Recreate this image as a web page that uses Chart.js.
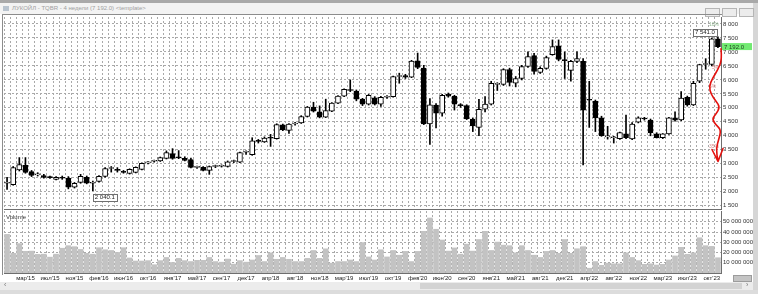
<!DOCTYPE html>
<html>
<head>
<meta charset="utf-8">
<script src="https://cdn.jsdelivr.net/npm/chart.js@4.4.0/dist/chart.umd.min.js"></script>
<style>
html, body { margin: 0; padding: 0; }
body { width: 758px; height: 294px; background: #d6d6d6; position: relative; overflow: hidden; font-family: "Liberation Sans", Arial, sans-serif; }
#topband { position: absolute; left: 0; top: 0; width: 758px; height: 3px; background: #a9a9a9; }
#win { position: absolute; left: 0; top: 3px; width: 753px; height: 291px; background: #fff; }
#title { position: absolute; left: 0; top: 3px; width: 753px; height: 11px; background: #f3f3f3; color: #a0a0a0; font-size: 6px; line-height: 11px; }
#title span { position: absolute; left: 12px; top: 0; }
#title i { position: absolute; left: 3px; top: 3px; width: 6px; height: 5px; background: #b9c4cf; }
.btn { position: absolute; top: 5px; width: 13px; height: 7px; border: 1px solid #b5b5b5; background: #ececec; }
#frameL { position: absolute; left: 2px; top: 14px; width: 1px; height: 261px; background: #8c8c8c; }
#frameT { position: absolute; left: 2px; top: 14px; width: 720px; height: 1px; background: #8c8c8c; }
#price { position: absolute; left: 4px; top: 12px; width: 750px; height: 202px; }
#volume { position: absolute; left: 4px; top: 206px; width: 750px; height: 77px; }
#scroll { position: absolute; left: 0; top: 282px; width: 753px; height: 8px; background: #ececec; font-size: 7px; color: #777; }
#thumb { position: absolute; left: 420px; top: 1px; width: 322px; height: 6px; background: #d3d3d3; }
#scroll b { position: absolute; top: -1px; font-weight: normal; }
#bottom { position: absolute; left: 0; top: 290px; width: 758px; height: 4px; background: #dcdcdc; }
#corner { position: absolute; left: 733px; top: 275px; width: 17px; height: 5px; background: #c4c4c4; border: 1px solid #9c9c9c; }
</style>
</head>
<body>
<div id="topband"></div>
<div id="win"></div>
<div id="title"><i></i><span>ЛУКОЙЛ - TQBR - 4 недели (7 192.0) &lt;template&gt;</span>
  <div class="btn" style="left:705px"></div><div class="btn" style="left:722px"></div><div class="btn" style="left:739px"></div>
</div>
<div id="price"><canvas id="chartPrice"></canvas></div>
<div id="volume"><canvas id="chartVol"></canvas></div>
<div id="frameL"></div>
<div id="frameT"></div>
<div id="corner"></div>
<div id="scroll"><div id="thumb"></div><b style="left:4px">&lsaquo;</b><b style="left:746px">&rsaquo;</b></div>
<div id="bottom"></div>
<script>
// --- Dados: velas de 4 semanas (LKOH), de 2015 a 2023 ---
const openPrices = [
  2300, 2250, 2780, 2940, 2720, 2600, 2580, 2510, 2440, 2510,
  2480, 2160, 2330, 2510, 2300, 2370, 2550, 2830, 2800, 2700,
  2650, 2690, 2800, 3030, 3090, 3100, 3190, 3360, 3220, 3190,
  3150, 2870, 2870, 2760, 2900, 2910, 2900, 3080, 3060, 3410,
  3320, 3820, 3780, 3920, 3900, 4390, 4190, 4420, 4460, 4690,
  5030, 4860, 4670, 4880, 5170, 5420, 5640, 5600, 5310, 5130,
  5360, 5130, 5380, 5400, 6120, 6150, 6100, 6680, 6420, 4420,
  5100, 4810, 5490, 5420, 5100, 5080, 4600, 4300, 4950, 5130,
  5840, 5840, 6370, 5880, 6050, 6480, 6870, 6270, 6410, 6900,
  7220, 6700, 6340, 6660, 6660, 5280, 5240, 4640, 3960, 3930,
  3900, 4070, 3890, 4490, 4620, 4560, 4070, 3930, 4070, 4640,
  4570, 5380, 5100, 5950, 6550, 6550, 7470
];
const highPrices = [
  2510, 2900, 3220, 3220, 2760, 2680, 2620, 2560, 2540, 2560,
  2540, 2330, 2620, 2560, 2380, 2580, 2860, 2900, 2860, 2760,
  2820, 2890, 3030, 3080, 3130, 3240, 3460, 3540, 3470, 3250,
  3200, 2920, 2900, 2920, 2950, 2960, 3100, 3130, 3420, 3460,
  3930, 3870, 3960, 4050, 4430, 4420, 4440, 4480, 4720, 5050,
  5200, 5070, 5310, 5190, 5440, 5680, 6000, 5640, 5340, 5480,
  5400, 5410, 5440, 6140, 6240, 6200, 6700, 6960, 6520, 5330,
  5150, 5480, 5530, 5450, 5150, 5110, 4640, 5300, 5400, 5950,
  5900, 6400, 6420, 6120, 6520, 7000, 6950, 6470, 6850, 7430,
  7430, 7000, 6700, 7000, 6760, 5950, 5280, 4700, 4340, 3980,
  4130, 4740, 4470, 4680, 4660, 4600, 4110, 4080, 4660, 4860,
  5580, 5420, 5950, 6560, 6760, 7500, 7541
];
const lowPrices = [
  2080, 2230, 2740, 2660, 2540, 2560, 2480, 2470, 2420, 2440,
  2100, 2130, 2300, 2280, 2040.1, 2340, 2520, 2700, 2700, 2660,
  2630, 2670, 2780, 2990, 3060, 3080, 3170, 3160, 3180, 3100,
  2850, 2830, 2740, 2620, 2860, 2880, 2880, 3040, 3040, 3330,
  3300, 3740, 3760, 3620, 3880, 4180, 4080, 4380, 4440, 4670,
  4850, 4640, 4650, 4860, 5150, 5400, 5580, 5250, 5080, 5100,
  5100, 5050, 5340, 5380, 5880, 6050, 6080, 6400, 4400, 3690,
  4280, 4700, 5380, 4920, 5020, 4580, 4150, 4000, 4850, 5100,
  5620, 5800, 5780, 5750, 6000, 6450, 6200, 6230, 6380, 6880,
  6680, 6050, 5950, 6620, 2960, 4300, 4150, 3980, 3880, 3740,
  3870, 3900, 3860, 4460, 4560, 4000, 3920, 3900, 4050, 4520,
  4540, 5060, 5080, 5900, 6380, 6500, 7150
];
const closePrices = [
  2320, 2860, 2970, 2690, 2580, 2620, 2510, 2500, 2510, 2480,
  2160, 2300, 2550, 2300, 2310, 2550, 2830, 2840, 2760, 2690,
  2800, 2870, 3010, 3040, 3100, 3220, 3400, 3190, 3210, 3120,
  2870, 2880, 2760, 2900, 2910, 2920, 3070, 3090, 3400, 3430,
  3820, 3800, 3920, 3910, 4400, 4210, 4420, 4440, 4690, 5030,
  4880, 4670, 4900, 5170, 5420, 5660, 5620, 5310, 5130, 5450,
  5130, 5380, 5400, 6120, 6130, 6100, 6670, 6450, 4420, 5110,
  4810, 5450, 5420, 5130, 5080, 4600, 4350, 4950, 5130, 5880,
  5850, 6370, 5910, 6050, 6480, 6830, 6300, 6410, 6800, 7190,
  6730, 6690, 6660, 6760, 4920, 5270, 4640, 4000, 3970, 3940,
  4110, 3930, 4420, 4640, 4600, 4110, 3930, 4070, 4640, 4560,
  5350, 5100, 5880, 6550, 6560, 7470, 7192
];
// Volume em milhões de ações
const volumeM = [
  38, 19.5, 29, 21.5, 21.7, 18.5, 18.7, 15.8, 18.7, 24.5,
  27, 26, 23.3, 19.5, 18.7, 25, 23, 22.3, 20.4, 25,
  15, 12, 12, 12.4, 8.4, 12.4, 15.5, 10.6, 14.6, 12.4,
  11.5, 12.7, 12.7, 15.5, 11.5, 10.9, 13.9, 9, 12.4, 10.9,
  13, 17.4, 11.5, 20, 13.7, 15.5, 13.7, 11.5, 11.5, 14.6,
  22.3, 14.6, 23.9, 9.9, 11.5, 11.5, 13, 11.5, 30, 16,
  13, 23, 16, 22.3, 17.7, 21.4, 11.5, 21.4, 41, 54,
  43, 32.5, 21.7, 24.8, 18.7, 28.5, 21.7, 33, 41, 22.3,
  30.5, 27.5, 27, 20, 27, 22.3, 17.7, 15.5, 21.4, 22.3,
  19.5, 33, 19.5, 24, 26, 5, 11.5, 7.8, 9.9, 9.3,
  9.3, 20, 15.5, 12.4, 8.8, 9.3, 8.1, 8.8, 13, 17,
  25.4, 18.6, 20, 34.7, 27, 26.3, 15.2
];
// Rótulos do eixo X (um a cada 4 velas, a partir da vela 3)
const monthTicks = [
  "мар'15", "июл'15", "ноя'15", "фев'16", "июн'16", "окт'16", "янв'17", "май'17",
  "сен'17", "дек'17", "апр'18", "авг'18", "ноя'18", "мар'19", "июл'19", "окт'19",
  "фев'20", "июн'20", "сен'20", "янв'21", "май'21", "авг'21", "дек'21", "апр'22",
  "авг'22", "ноя'22", "мар'23", "июл'23", "окт'23"
];
const priceTicks = [1500, 2000, 2500, 3000, 3500, 4000, 4500, 5000, 5500, 6000, 6500, 7000, 7500, 8000];
const volumeTicks = [10e6, 20e6, 30e6, 40e6, 50e6];
const minLow = 2040.1;
const maxHigh = 7541.0;
const lastClose = 7192.0;

// --- Preparação ---
const barIdx = openPrices.map((_, i) => i);
const FONT = { family: 'Liberation Sans', size: 6, lineHeight: 1 };
const GRID = '#a9a9a9';
const fmt = v => Number(v).toFixed(0).replace(/\B(?=(\d{3})+(?!\d))/g, ' ');
const fmt1 = v => fmt(Math.floor(v)) + '.' + Math.round((v % 1) * 10);

function fixedWidth(scale) { scale.width = 33; }

// --- Plugin de anotações (rótulos e seta vermelha) ---
const notesPlugin = {
  id: 'notes',
  afterDatasetsDraw(chart) {
    const { ctx, scales: { x, y }, chartArea } = chart;
    ctx.save();
    ctx.font = '6px "Liberation Sans"';
    ctx.textBaseline = 'middle';

    // Caixa com a mínima
    const bx = x.getPixelForValue(lowPrices.indexOf(minLow));
    const by = y.getPixelForValue(minLow) + 6;
    let w = ctx.measureText(fmt1(minLow)).width + 4;
    ctx.fillStyle = '#fff';
    ctx.fillRect(bx, by - 3, w, 7);
    ctx.strokeStyle = '#707070';
    ctx.lineWidth = 1;
    ctx.strokeRect(Math.round(bx) + 0.5, Math.round(by - 3) + 0.5, Math.round(w), 7);
    ctx.fillStyle = '#222';
    ctx.fillText(fmt1(minLow), bx + 2, by + 0.5);

    // Caixa com a máxima
    const hx = x.getPixelForValue(highPrices.indexOf(maxHigh));
    const hy = y.getPixelForValue(maxHigh) - 5;
    w = ctx.measureText(fmt1(maxHigh)).width + 4;
    ctx.fillStyle = '#fff';
    ctx.fillRect(hx - w - 1, hy - 3, w, 7);
    ctx.strokeRect(Math.round(hx - w - 1) + 0.5, Math.round(hy - 3) + 0.5, Math.round(w), 7);
    ctx.fillStyle = '#222';
    ctx.fillText(fmt1(maxHigh), hx - w + 1, hy + 0.5);

    // Etiqueta verde do último preço
    const ly = y.getPixelForValue(lastClose);
    ctx.fillStyle = '#72ea72';
    ctx.fillRect(chartArea.right + 1, ly - 3.5, 30, 7);
    ctx.fillStyle = '#1d3d1d';
    ctx.fillText(fmt1(lastClose), chartArea.right + 3, ly + 0.5);

    // Percentuais desenhados à mão
    ctx.font = '5px "Liberation Sans"';
    ctx.fillStyle = 'rgba(120,170,120,0.8)';
    ctx.fillText('10%', chartArea.right - 12, y.getPixelForValue(7960));
    ctx.fillStyle = 'rgba(210,110,110,0.8)';
    ctx.fillText('5%', chartArea.right - 9, y.getPixelForValue(6450));
    ctx.fillText('5%', chartArea.right - 12, y.getPixelForValue(5770));
    ctx.fillText('35%', chartArea.right - 12, y.getPixelForValue(3600));

    // Seta vermelha ondulada
    const path = [[0, 7115], [1, 6726], [-3, 6372], [-8, 6088], [-12, 5770], [-10, 5487], [-5, 5239],
      [-1, 5026], [-5, 4778], [-9, 4602], [-5, 4389], [0, 4212], [-2, 3894], [-5, 3540], [-3, 3080]];
    const pts = path.map(([dx, p]) => [chartArea.right + dx, y.getPixelForValue(p)]);
    ctx.strokeStyle = '#e3120f';
    ctx.lineWidth = 1.6;
    ctx.lineJoin = 'round';
    ctx.lineCap = 'round';
    ctx.beginPath();
    ctx.moveTo(pts[0][0], pts[0][1]);
    for (let i = 1; i < pts.length - 1; i++) {
      const mx = (pts[i][0] + pts[i + 1][0]) / 2;
      const my = (pts[i][1] + pts[i + 1][1]) / 2;
      ctx.quadraticCurveTo(pts[i][0], pts[i][1], mx, my);
    }
    const tip = pts[pts.length - 1];
    ctx.lineTo(tip[0], tip[1]);
    ctx.moveTo(tip[0] - 6, tip[1] - 12);
    ctx.lineTo(tip[0], tip[1]);
    ctx.lineTo(tip[0] + 5, tip[1] - 13);
    ctx.stroke();
    ctx.restore();
  }
};

// --- Gráfico de preços (velas) ---
new Chart(document.getElementById('chartPrice'), {
  type: 'bar',
  data: {
    labels: barIdx,
    datasets: [
      {
        label: 'corpo',
        data: barIdx.map(i => [openPrices[i], closePrices[i]]),
        backgroundColor: barIdx.map(i => closePrices[i] >= openPrices[i] ? '#ffffff' : '#000000'),
        borderColor: '#000',
        borderWidth: 1,
        borderSkipped: false,
        barThickness: 5,
        minBarLength: 1,
        grouped: false,
        order: 0
      },
      {
        label: 'sombra',
        data: barIdx.map(i => [lowPrices[i], highPrices[i]]),
        backgroundColor: '#000',
        barThickness: 1,
        grouped: false,
        order: 1
      }
    ]
  },
  options: {
    responsive: true,
    maintainAspectRatio: false,
    animation: false,
    layout: { padding: 0 },
    plugins: { legend: { display: false }, tooltip: { enabled: false } },
    scales: {
      x: {
        offset: true,
        ticks: { display: false },
        grid: { offset: true, color: GRID, drawTicks: false },
        border: { display: true, color: '#6e6e6e', dash: [2, 2] }
      },
      y: {
        position: 'right',
        min: 1380,
        max: 8250,
        afterBuildTicks: s => { s.ticks = priceTicks.map(v => ({ value: v })); },
        afterFit: fixedWidth,
        ticks: { font: FONT, color: '#333', padding: 2, callback: v => fmt(v) },
        grid: { color: GRID, drawTicks: false },
        border: { display: true, color: '#6e6e6e', dash: [2, 2] }
      }
    }
  },
  plugins: [notesPlugin]
});

// --- Gráfico de volume ---
const volLabelPlugin = {
  id: 'volLabel',
  afterDraw(chart) {
    const { ctx, chartArea } = chart;
    ctx.save();
    ctx.font = '6px "Liberation Sans"';
    ctx.fillStyle = '#333';
    ctx.textBaseline = 'top';
    ctx.fillText('Volume', chartArea.left + 2, chartArea.top + 3);
    ctx.restore();
  }
};

new Chart(document.getElementById('chartVol'), {
  type: 'bar',
  data: {
    labels: barIdx,
    datasets: [{
      label: 'Volume',
      data: volumeM.map(v => v * 1e6),
      backgroundColor: '#c3c3c3',
      barPercentage: 0.92,
      categoryPercentage: 1
    }]
  },
  options: {
    responsive: true,
    maintainAspectRatio: false,
    animation: false,
    layout: { padding: 0 },
    plugins: { legend: { display: false }, tooltip: { enabled: false } },
    scales: {
      x: {
        offset: true,
        ticks: {
          font: FONT, color: '#222', padding: 2, autoSkip: false, maxRotation: 0,
          callback: (v, i) => (i >= 3 && (i - 3) % 4 === 0) ? monthTicks[(i - 3) / 4] : ''
        },
        grid: { offset: true, color: GRID, drawTicks: false },
        border: { display: true, color: '#6e6e6e', dash: [2, 2] }
      },
      y: {
        position: 'right',
        min: 0,
        max: 60.5e6,
        afterBuildTicks: s => { s.ticks = volumeTicks.map(v => ({ value: v })); },
        afterFit: fixedWidth,
        ticks: { font: FONT, color: '#333', padding: 2, callback: v => fmt(v) },
        grid: { color: GRID, drawTicks: false },
        border: { display: true, color: '#6e6e6e', dash: [2, 2] }
      }
    }
  },
  plugins: [volLabelPlugin]
});
</script>
</body>
</html>
